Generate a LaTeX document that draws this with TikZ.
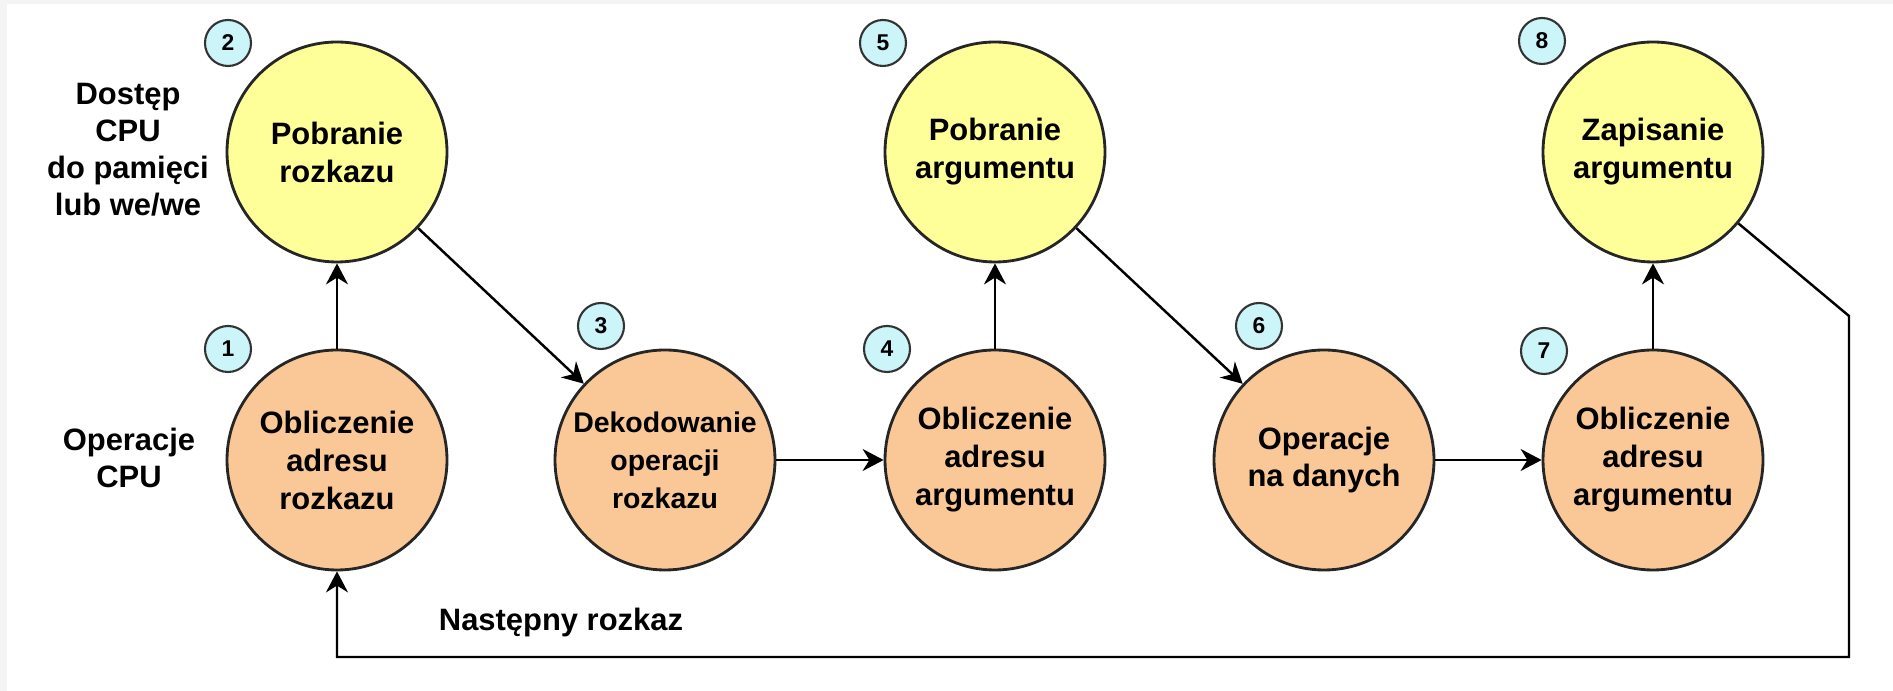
\documentclass[tikz,border=0pt]{standalone}
\usepackage{fontspec}
\setmainfont{Liberation Sans}
\usepackage{xcolor}
\usetikzlibrary{arrows.meta}
\definecolor{FetchYellow}{RGB}{255,255,153}
\definecolor{CpuOrange}{RGB}{250,200,150}
\definecolor{StepCyan}{RGB}{204,245,250}
\definecolor{FrameGray}{RGB}{244,244,244}

\tikzset{
  memop/.style={circle,draw=black!85,line width=0.8pt,fill=FetchYellow,
        minimum size=2.2cm,inner sep=0pt,align=center,
        font=\fontsize{8.8}{10.8}\selectfont\bfseries},
  cpuop/.style={memop,fill=CpuOrange},
  stepno/.style={circle,draw=black!80,line width=0.6pt,fill=StepCyan,
        minimum size=0.46cm,inner sep=0pt,font=\fontsize{6.5}{7}\selectfont\bfseries},
  flow/.style={-{Stealth[length=2.1mm,width=2.2mm]},line width=0.7pt},
  rowlabel/.style={align=center,font=\fontsize{8.8}{10.5}\selectfont\bfseries}
}

\begin{document}
\begin{tikzpicture}
  \useasboundingbox (0,0) rectangle (18.93,-6.91);
  \fill[FrameGray] (0,0) rectangle (18.93,-6.91);
  \fill[white] (0.07,-0.04) rectangle (18.93,-6.91);

  % row labels
  \node[rowlabel] (memrow) at (1.28,-1.50) {Dostęp\\CPU\\do pamięci\\lub we/we};
  \node[rowlabel] (cpurow) at (1.29,-4.58) {Operacje\\CPU};

  % instruction cycle states
  \node[cpuop] (c1) at (3.37,-4.60) {Obliczenie\\adresu\\rozkazu};
  \node[memop] (c2) at (3.37,-1.52) {Pobranie\\rozkazu};
  \node[cpuop,font=\fontsize{8.1}{10.8}\selectfont\bfseries] (c3) at (6.65,-4.60)
        {Dekodowanie\\operacji\\rozkazu};
  \node[cpuop] (c4) at (9.95,-4.60) {Obliczenie\\adresu\\argumentu};
  \node[memop] (c5) at (9.95,-1.52) {Pobranie\\argumentu};
  \node[cpuop] (c6) at (13.24,-4.60) {Operacje\\na danych};
  \node[cpuop] (c7) at (16.53,-4.60) {Obliczenie\\adresu\\argumentu};
  \node[memop] (c8) at (16.53,-1.52) {Zapisanie\\argumentu};

  % step numbers
  \node[stepno] (n1) at (2.28,-3.49) {1};
  \node[stepno] (n2) at (2.28,-0.43) {2};
  \node[stepno] (n3) at (6.01,-3.26) {3};
  \node[stepno] (n4) at (8.87,-3.49) {4};
  \node[stepno] (n5) at (8.83,-0.43) {5};
  \node[stepno] (n6) at (12.59,-3.26) {6};
  \node[stepno] (n7) at (15.44,-3.51) {7};
  \node[stepno] (n8) at (15.42,-0.41) {8};

  \draw[flow] (c1) -- (c2);
  \draw[flow] (c2) -- (c3);
  \draw[flow] (c3) -- (c4);
  \draw[flow] (c4) -- (c5);
  \draw[flow] (c5) -- (c6);
  \draw[flow] (c6) -- (c7);
  \draw[flow] (c7) -- (c8);

  % back to the next instruction
  \coordinate (turn) at (18.49,-3.16);
  \coordinate (ret) at (18.49,-6.57);
  \draw[flow] (c8) -- (turn) -- (ret) -| (c1);
  \node[rowlabel] (next) at (5.61,-6.23) {Następny rozkaz};
\end{tikzpicture}
\end{document}
